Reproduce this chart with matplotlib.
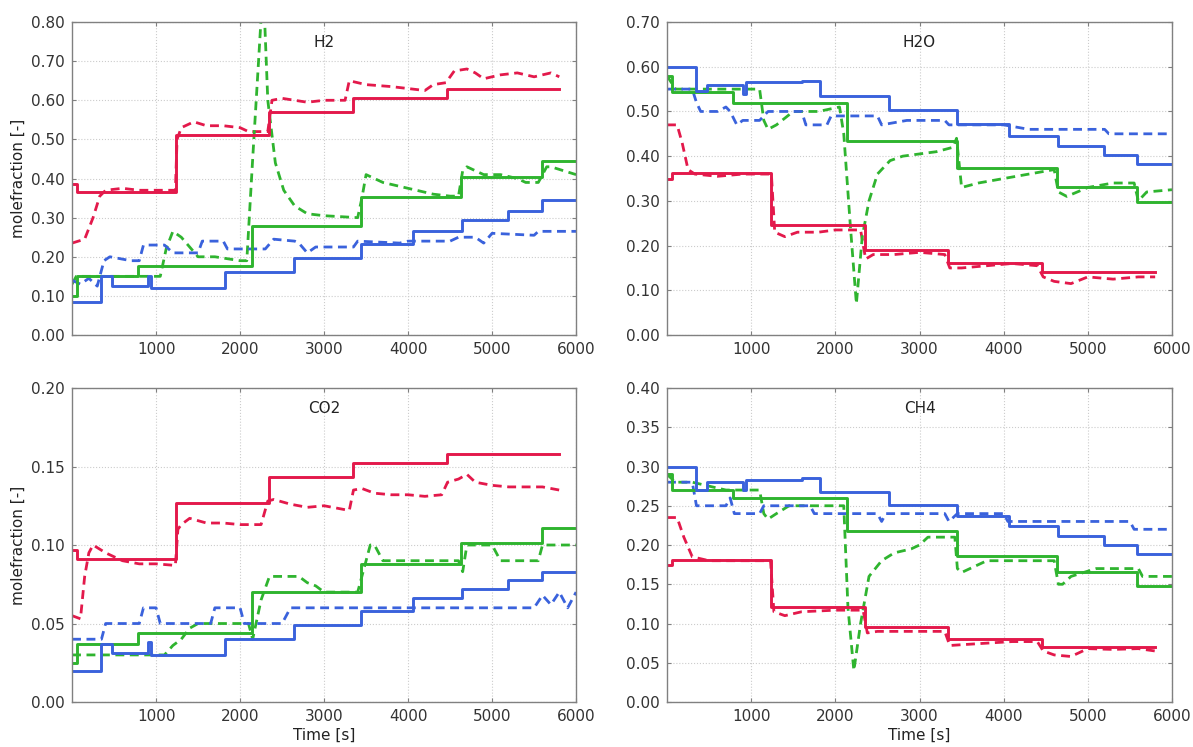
#!/usr/bin/env python
# coding: utf-8

import matplotlib
matplotlib.use('Agg')
import matplotlib.pyplot as plt
import matplotlib.ticker as mtick
import numpy as np

# ---- data ----

# step times of the solid (model) lines, one set per colour
t_red   = [0, 60, 1240, 2350, 3340, 4460, 5800]
t_green = [0, 60, 790, 2140, 3440, 4630, 5590, 6000]
t_blue  = [0, 350, 480, 900, 940, 1600, 1820, 2640, 3440, 4060, 4640, 5190, 5590, 6000]

# H2
h2_red   = [0.385, 0.365, 0.51, 0.57, 0.605, 0.63]
h2_green = [0.10, 0.152, 0.177, 0.278, 0.352, 0.405, 0.445]
h2_blue  = [0.085, 0.15, 0.125, 0.15, 0.12, 0.12, 0.16, 0.197, 0.233, 0.265, 0.293, 0.318, 0.345]

h2_red_dt = [0, 150, 250, 330, 400, 600, 800, 1000, 1230, 1250, 1300, 1450, 1600, 1800, 2000, 2100, 2330, 2380,
             2500, 2800, 3000, 3250, 3300, 3500, 3800, 4000, 4200, 4300, 4450, 4550, 4700, 4800, 4900, 5100,
             5300, 5500, 5700, 5800]
h2_red_d  = [0.235, 0.245, 0.30, 0.355, 0.37, 0.375, 0.37, 0.37, 0.37, 0.50, 0.53, 0.545, 0.535, 0.535, 0.53,
             0.52, 0.52, 0.60, 0.605, 0.595, 0.60, 0.60, 0.65, 0.64, 0.635, 0.63, 0.625, 0.64, 0.645, 0.675,
             0.68, 0.67, 0.655, 0.665, 0.67, 0.66, 0.67, 0.66]
h2_green_dt = [0, 50, 300, 750, 1050, 1120, 1200, 1300, 1500, 1700, 2000, 2080, 2150, 2220, 2275, 2330, 2420,
               2520, 2650, 2800, 3000, 3400, 3450, 3500, 3700, 3900, 4100, 4300, 4500, 4600, 4650, 4700, 4900,
               5100, 5300, 5400, 5550, 5650, 5700, 5850, 6000]
h2_green_d  = [0.13, 0.15, 0.15, 0.15, 0.15, 0.22, 0.265, 0.25, 0.20, 0.20, 0.19, 0.19, 0.45, 0.70, 0.90, 0.60,
               0.44, 0.37, 0.33, 0.31, 0.305, 0.30, 0.35, 0.41, 0.39, 0.38, 0.37, 0.36, 0.355, 0.355, 0.42, 0.43,
               0.41, 0.41, 0.40, 0.39, 0.39, 0.43, 0.43, 0.42, 0.41]
h2_blue_dt = [0, 100, 200, 300, 380, 450, 700, 800, 850, 1100, 1200, 1500, 1550, 1800, 1850, 2300, 2400, 2650,
              2700, 2800, 2900, 3350, 3400, 3900, 4000, 4500, 4600, 4800, 4900, 5000, 5500, 5550, 6000]
h2_blue_d  = [0.14, 0.13, 0.145, 0.125, 0.19, 0.20, 0.19, 0.19, 0.23, 0.23, 0.21, 0.21, 0.24, 0.24, 0.22, 0.22,
              0.245, 0.24, 0.235, 0.21, 0.225, 0.225, 0.24, 0.235, 0.24, 0.24, 0.25, 0.25, 0.235, 0.26, 0.255,
              0.265, 0.265]

# H2O
h2o_red   = [0.35, 0.362, 0.245, 0.19, 0.16, 0.14]
h2o_green = [0.58, 0.543, 0.52, 0.435, 0.373, 0.33, 0.298]
h2o_blue  = [0.60, 0.545, 0.56, 0.54, 0.565, 0.568, 0.535, 0.503, 0.472, 0.446, 0.423, 0.402, 0.382]

h2o_red_dt = [0, 120, 180, 250, 330, 600, 900, 1240, 1280, 1400, 1550, 1800, 2000, 2300, 2360, 2450, 2700,
              3000, 3300, 3360, 3500, 3800, 4100, 4400, 4470, 4600, 4800, 5000, 5300, 5600, 5800]
h2o_red_d  = [0.47, 0.47, 0.43, 0.37, 0.36, 0.355, 0.36, 0.36, 0.23, 0.22, 0.23, 0.23, 0.235, 0.235, 0.17,
              0.18, 0.18, 0.185, 0.18, 0.15, 0.15, 0.155, 0.16, 0.155, 0.13, 0.12, 0.115, 0.13, 0.125, 0.13, 0.13]
h2o_green_dt = [0, 100, 300, 700, 1100, 1150, 1200, 1300, 1500, 1800, 2050, 2100, 2180, 2250, 2320, 2400, 2500,
                2650, 2800, 3200, 3400, 3440, 3500, 3700, 4000, 4300, 4600, 4650, 4750, 5000, 5300, 5550, 5600,
                5700, 6000]
h2o_green_d  = [0.58, 0.55, 0.55, 0.55, 0.55, 0.48, 0.46, 0.47, 0.50, 0.50, 0.51, 0.45, 0.24, 0.07, 0.22, 0.30,
                0.36, 0.39, 0.40, 0.41, 0.42, 0.44, 0.33, 0.34, 0.35, 0.36, 0.37, 0.32, 0.31, 0.33, 0.34, 0.34,
                0.30, 0.32, 0.325]
h2o_blue_dt = [0, 300, 350, 400, 600, 700, 750, 830, 900, 1100, 1200, 1600, 1650, 1900, 1950, 2500, 2550, 2850,
               3300, 3350, 3950, 4000, 4300, 5200, 5250, 6000]
h2o_blue_d  = [0.55, 0.55, 0.52, 0.50, 0.50, 0.51, 0.50, 0.47, 0.48, 0.48, 0.50, 0.50, 0.47, 0.47, 0.49, 0.49,
               0.47, 0.48, 0.48, 0.47, 0.47, 0.47, 0.46, 0.46, 0.45, 0.45]

# CO2
co2_red   = [0.097, 0.091, 0.127, 0.143, 0.152, 0.158]
co2_green = [0.025, 0.037, 0.044, 0.070, 0.088, 0.101, 0.111]
co2_blue  = [0.020, 0.037, 0.031, 0.038, 0.030, 0.030, 0.040, 0.049, 0.058, 0.066, 0.072, 0.078, 0.083]

co2_red_dt = [0, 100, 150, 200, 250, 400, 600, 800, 1000, 1230, 1260, 1300, 1400, 1600, 1800, 2000, 2250, 2330,
              2400, 2600, 2800, 3000, 3300, 3350, 3450, 3600, 3800, 4000, 4200, 4400, 4470, 4600, 4700, 4800,
              5000, 5200, 5400, 5600, 5800]
co2_red_d  = [0.055, 0.053, 0.08, 0.095, 0.10, 0.095, 0.09, 0.088, 0.088, 0.087, 0.11, 0.113, 0.117, 0.114,
              0.114, 0.113, 0.113, 0.128, 0.129, 0.126, 0.124, 0.125, 0.122, 0.135, 0.136, 0.133, 0.132, 0.132,
              0.131, 0.132, 0.14, 0.142, 0.145, 0.14, 0.138, 0.137, 0.137, 0.137, 0.135]
co2_green_dt = [0, 300, 700, 1100, 1200, 1300, 1400, 1500, 2100, 2150, 2250, 2350, 2700, 2800, 2900, 3000, 3400,
                3500, 3550, 3600, 3700, 4600, 4650, 4700, 5000, 5100, 5300, 5550, 5600, 6000]
co2_green_d  = [0.03, 0.03, 0.03, 0.03, 0.036, 0.04, 0.047, 0.05, 0.05, 0.04, 0.065, 0.08, 0.08, 0.076, 0.074,
                0.07, 0.07, 0.09, 0.10, 0.10, 0.09, 0.09, 0.083, 0.10, 0.10, 0.09, 0.09, 0.09, 0.10, 0.10]
co2_blue_dt = [0, 350, 400, 800, 850, 1000, 1050, 1650, 1700, 2000, 2050, 2500, 2600, 5400, 5500, 5600, 5700,
               5800, 5900, 6000]
co2_blue_d  = [0.04, 0.04, 0.05, 0.05, 0.06, 0.06, 0.05, 0.05, 0.06, 0.06, 0.05, 0.05, 0.06, 0.06, 0.06, 0.068,
               0.062, 0.07, 0.06, 0.07]

# CH4
ch4_red   = [0.175, 0.181, 0.121, 0.095, 0.080, 0.070]
ch4_green = [0.29, 0.27, 0.26, 0.218, 0.186, 0.165, 0.148]
ch4_blue  = [0.30, 0.27, 0.28, 0.27, 0.283, 0.285, 0.267, 0.251, 0.237, 0.224, 0.211, 0.200, 0.189]

ch4_red_dt = [0, 120, 200, 300, 500, 800, 1230, 1270, 1400, 1600, 2000, 2330, 2380, 2500, 2800, 3300, 3360,
              3500, 3800, 4100, 4400, 4470, 4600, 4800, 5000, 5300, 5600, 5800]
ch4_red_d  = [0.235, 0.235, 0.21, 0.185, 0.18, 0.18, 0.18, 0.115, 0.11, 0.115, 0.117, 0.117, 0.088, 0.09, 0.09,
              0.09, 0.072, 0.073, 0.075, 0.077, 0.077, 0.065, 0.06, 0.058, 0.068, 0.067, 0.068, 0.065]
ch4_green_dt = [0, 100, 300, 700, 1100, 1150, 1200, 1300, 1450, 2100, 2150, 2220, 2300, 2400, 2550, 2700, 2900,
                3000, 3100, 3420, 3450, 3500, 3600, 3800, 4600, 4650, 4700, 4800, 5100, 5600, 5650, 6000]
ch4_green_d  = [0.29, 0.28, 0.28, 0.27, 0.27, 0.24, 0.233, 0.24, 0.25, 0.25, 0.12, 0.04, 0.10, 0.16, 0.18, 0.19,
                0.195, 0.20, 0.21, 0.21, 0.17, 0.165, 0.17, 0.18, 0.18, 0.15, 0.15, 0.16, 0.17, 0.17, 0.16, 0.16]
ch4_blue_dt = [0, 300, 350, 700, 750, 800, 1100, 1150, 1700, 1750, 2500, 2550, 2600, 3300, 3350, 3450, 4000,
               4050, 5500, 5550, 6000]
ch4_blue_d  = [0.28, 0.28, 0.25, 0.25, 0.26, 0.24, 0.24, 0.25, 0.25, 0.24, 0.24, 0.23, 0.24, 0.24, 0.23, 0.24,
               0.24, 0.23, 0.23, 0.22, 0.22]

gases  = ['H2', 'H2O', 'CO2', 'CH4']
ymax   = [0.80, 0.70, 0.20, 0.40]
ystep  = [0.10, 0.10, 0.05, 0.05]
solids = [(h2_red, h2_green, h2_blue), (h2o_red, h2o_green, h2o_blue),
          (co2_red, co2_green, co2_blue), (ch4_red, ch4_green, ch4_blue)]
dashes = [((h2_red_dt, h2_red_d), (h2_green_dt, h2_green_d), (h2_blue_dt, h2_blue_d)),
          ((h2o_red_dt, h2o_red_d), (h2o_green_dt, h2o_green_d), (h2o_blue_dt, h2o_blue_d)),
          ((co2_red_dt, co2_red_d), (co2_green_dt, co2_green_d), (co2_blue_dt, co2_blue_d)),
          ((ch4_red_dt, ch4_red_d), (ch4_green_dt, ch4_green_d), (ch4_blue_dt, ch4_blue_d))]

# ---- figure parameters ----
colors = ['#e3194b', '#2fb42f', '#3a62dc']
times  = [t_red, t_green, t_blue]

params = {'font.family': 'DejaVu Sans',
          'font.size': 11,
          'xtick.labelsize': 11,
          'ytick.labelsize': 11,
          'axes.linewidth': 1.0,
          'axes.edgecolor': '#808080',
          'xtick.color': '#808080',
          'ytick.color': '#808080',
          'xtick.labelcolor': '#333333',
          'ytick.labelcolor': '#333333'}
plt.rcParams.update(params)

fig = plt.figure(figsize=(11.93, 7.47), dpi=100)
# [left, bottom, width, height] in figure fractions
pos = [[0.0604, 0.5515, 0.4225, 0.4190],
       [0.5591, 0.5515, 0.4233, 0.4190],
       [0.0604, 0.0602, 0.4225, 0.4204],
       [0.5591, 0.0602, 0.4233, 0.4204]]

for k, gas in enumerate(gases):
    ax = fig.add_axes(pos[k])
    ax.set_xlim(0, 6000)
    ax.set_ylim(0, ymax[k])
    ax.xaxis.set_major_locator(mtick.FixedLocator([1000, 2000, 3000, 4000, 5000, 6000]))
    ax.yaxis.set_major_locator(mtick.MultipleLocator(ystep[k]))
    ax.yaxis.set_major_formatter(mtick.FormatStrFormatter('%.2f'))
    ax.tick_params(which='both', direction='in', length=3, width=0.8,
                   top=True, right=True, pad=5)
    ax.grid(True, ls=':', lw=0.8, color='#cccccc')
    ax.set_axisbelow(True)

    # dashed lines = measurements, solid lines = model
    for c in range(3):
        dt, dv = dashes[k][c]
        ax.plot(dt, dv, c=colors[c], lw=2.0, ls=(0, (3.2, 2.0)))
    for c in range(3):
        vals = list(solids[k][c]) + [solids[k][c][-1]]
        ax.plot(times[c], vals, c=colors[c], lw=2.1, drawstyle='steps-post')

    ax.text(0.5, 0.935, gas, transform=ax.transAxes, ha='center', va='center',
            fontsize=11, color='#222222')
    if k % 2 == 0:
        ax.set_ylabel('molefraction [-]', fontsize=11, color='#222222', labelpad=4)
    if k >= 2:
        ax.set_xlabel('Time [s]', fontsize=11, color='#222222', labelpad=3)

plt.savefig('out.png', dpi=100)
